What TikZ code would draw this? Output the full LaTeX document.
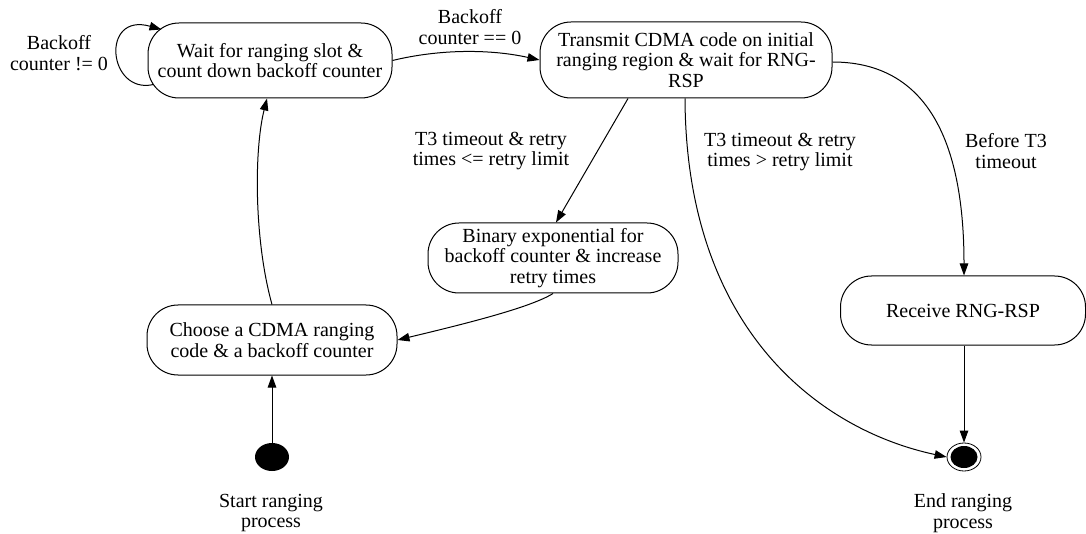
\documentclass[tikz,border=0pt]{standalone}
\usepackage{fontspec}
\setmainfont{Liberation Serif}
\usetikzlibrary{arrows.meta,calc,shapes.geometric}
\begin{document}
\begin{tikzpicture}[x=1pt,y=-1pt,
  every node/.style={font=\fontsize{20}{20.5}\selectfont, align=center},
  statebox/.style={draw, line width=1pt, rectangle, rounded corners=31pt, inner sep=0pt},
  lbl/.style={inner sep=0pt},
  arr/.style={line width=1pt, -{Triangle[length=12pt,width=8.5pt]}},
  startdot/.style={ellipse, fill=black, minimum width=34pt, minimum height=28pt, inner sep=0pt},
  enddot/.style={ellipse, draw, line width=0.8pt, minimum width=34pt, minimum height=28pt, inner sep=0pt}
]
\useasboundingbox (0,0) rectangle (1086,534);

% states
\node[statebox, minimum width=244pt, minimum height=75pt] (wait) at (270,60.5)
  {Wait for ranging slot \&\\count down backoff counter};
\node[statebox, minimum width=292pt, minimum height=76pt] (tx) at (686,60)
  {Transmit CDMA code on initial\\ranging region \& wait for RNG-\\RSP};
\node[statebox, minimum width=250pt, minimum height=70pt] (bin) at (553,258)
  {Binary exponential for\\backoff counter \& increase\\retry times};
\node[statebox, minimum width=250pt, minimum height=70pt] (choose) at (272,340)
  {Choose a CDMA ranging\\code \& a backoff counter};
\node[statebox, minimum width=245pt, minimum height=69pt] (recv) at (963,310.5)
  {Receive RNG-RSP};

% initial and final pseudo-states
\node[startdot] (start) at (272,457) {};
\node[enddot] (end) at (964,457) {};
\node[ellipse, fill=black, minimum width=27pt, minimum height=22pt, inner sep=0pt] (endcore) at (end) {};

\node[lbl] (startlbl) at (271,513) {Start ranging\\process};
\node[lbl] (endlbl) at (963,513) {End ranging\\process};

% transitions
\draw[arr] ($(wait.south west)+(6,-14)$) .. controls (108,95) and (100,12) .. ($(wait.north west)+(14,7)$);
\node[lbl] (l-loop) at (59,53) {Backoff\\counter != 0};

\draw[arr] (wait.east) .. controls (440,49) and (490,49) .. (tx.west);
\node[lbl] (l-zero) at (470,27) {Backoff\\counter == 0};

\draw[arr] ($(tx.south)+(-58,0)$) -- ($(bin.north)+(3,0)$);
\node[lbl] (l-retry) at (491,151) {T3 timeout \& retry\\times <= retry limit};

\draw[arr] ($(tx.south)+(-1,0)$) .. controls (686,330) and (820,430) .. (end.west);
\node[lbl] (l-limit) at (780,152) {T3 timeout \& retry\\times > retry limit};

\draw[arr] ($(tx.east)+(0,2)$) .. controls (920,62) and (964,130) .. (end.north |- recv.north);
\node[lbl] (l-before) at (1006,151) {Before T3\\timeout};

\draw[arr] (bin.south) .. controls (530,308) and (460,325) .. (choose.east);
\draw[arr] (choose.north) .. controls (254,240) and (254,150) .. ($(wait.south)+(-3,0)$);
\draw[arr] (start.north) -- (choose.south);
\draw[arr] (end.north |- recv.south) -- (end.north);
\end{tikzpicture}
\end{document}
